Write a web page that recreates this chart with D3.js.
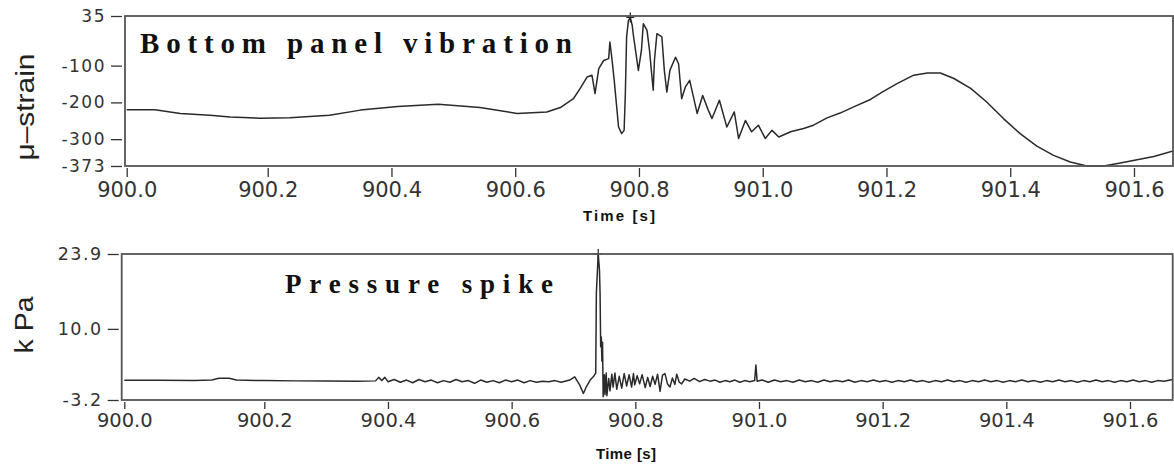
<!DOCTYPE html>
<html>
<head>
<meta charset="utf-8">
<script src="https://cdn.jsdelivr.net/npm/d3@7"></script>
<style>
  body { margin: 0; background: #fff; }
  svg { display: block; background: #fff; }
  .tick line { stroke: #333; stroke-width: 1.3; }
  .tick text { font-family: 'DejaVu Sans', sans-serif; fill: #333; }
  .domain { display: none; }
</style>
</head>
<body>
<svg></svg>
<script>
/* time ticks shared by both panels */
const timeTicks = [900.0, 900.2, 900.4, 900.6, 900.8, 901.0, 901.2, 901.4, 901.6]
const strainTicks = [35, -100, -200, -300, -373]
const pressureTicks = [23.9, 10.0, -3.2]

/* [time s, micro-strain] */
const strainSeries = [
  [900.000, -220], [900.040, -220], [900.076, -230], [900.118, -235], [900.147, -240],
  [900.189, -243], [900.236, -242], [900.300, -235], [900.350, -221], [900.410, -211],
  [900.476, -205], [900.543, -214], [900.603, -230], [900.651, -226], [900.673, -214],
  [900.694, -190], [900.705, -162], [900.716, -131], [900.724, -126], [900.729, -176],
  [900.735, -108], [900.743, -86], [900.751, -81], [900.753, -36], [900.756, -77],
  [900.760, -140], [900.764, -212], [900.767, -267], [900.772, -285], [900.776, -276],
  [900.778, -176], [900.780, -22], [900.783, 23], [900.786, 31], [900.789, 10],
  [900.791, -18], [900.796, -77], [900.799, -113], [900.804, -58], [900.807, 14],
  [900.813, -4], [900.817, -58], [900.821, -131], [900.823, -167], [900.825, -86],
  [900.829, -13], [900.837, -22], [900.841, -113], [900.845, -172], [900.850, -113],
  [900.859, -77], [900.864, -95], [900.869, -190], [900.875, -158], [900.882, -140],
  [900.888, -185], [900.894, -230], [900.903, -181], [900.912, -221], [900.918, -244],
  [900.930, -194], [900.939, -249], [900.942, -267], [900.954, -226], [900.961, -298],
  [900.972, -249], [900.982, -280], [900.993, -262], [901.004, -298], [901.015, -276],
  [901.026, -294], [901.045, -280], [901.066, -271], [901.082, -262], [901.104, -242],
  [901.125, -229], [901.147, -212], [901.174, -192], [901.193, -172], [901.217, -149],
  [901.244, -126], [901.266, -120], [901.287, -120], [901.309, -135], [901.336, -162],
  [901.362, -199], [901.389, -244], [901.416, -285], [901.443, -319], [901.470, -344],
  [901.497, -362], [901.524, -373], [901.551, -373], [901.578, -365], [901.605, -356],
  [901.632, -347], [901.664, -332]
]

/* [time s, kPa] */
const pressureSeries = [
  [900.000, 0.45], [900.050, 0.45], [900.100, 0.40], [900.125, 0.50], [900.135, 0.85],
  [900.150, 0.85], [900.160, 0.50], [900.200, 0.40], [900.250, 0.35], [900.300, 0.35],
  [900.350, 0.30], [900.380, 0.35], [900.385, 1.00], [900.390, 0.40], [900.395, 1.00],
  [900.400, 0.20], [900.410, 0.60], [900.420, 0.10], [900.430, 0.50], [900.440, 0.00],
  [900.450, 0.60], [900.460, 0.20], [900.470, 0.50], [900.480, 0.00], [900.490, 0.40],
  [900.500, 0.10], [900.510, 0.60], [900.520, 0.20], [900.530, 0.40], [900.540, -0.10],
  [900.550, 0.50], [900.560, 0.10], [900.570, 0.40], [900.580, 0.00], [900.590, 0.50],
  [900.600, 0.20], [900.610, 0.50], [900.620, 0.00], [900.630, 0.40], [900.640, 0.10],
  [900.650, 0.30], [900.660, 0.20], [900.670, 0.40], [900.680, 0.10], [900.694, 0.50],
  [900.702, 1.10], [900.710, -0.40], [900.716, -2.00], [900.721, -0.70], [900.727, 0.50],
  [900.732, 1.10], [900.736, 1.80], [900.737, 16.6], [900.740, 23.9], [900.742, 21.0],
  [900.743, 16.6], [900.744, 6.7], [900.745, 8.5], [900.746, 4.0], [900.747, 7.5],
  [900.748, -2.6], [900.750, 1.5], [900.751, -2.2], [900.753, 1.8], [900.754, -2.4],
  [900.757, 0.8], [900.759, -1.5], [900.762, 1.6], [900.764, -0.8], [900.767, 1.8],
  [900.770, -1.2], [900.774, 1.2], [900.778, -1.0], [900.782, 1.7], [900.786, -0.6],
  [900.790, 1.5], [900.794, -0.8], [900.797, 1.7], [900.799, -0.4], [900.803, 1.3],
  [900.807, -0.2], [900.811, 1.5], [900.816, -0.9], [900.820, 1.0], [900.824, -0.7],
  [900.828, 1.2], [900.832, -0.3], [900.836, 1.6], [900.840, -1.6], [900.844, 1.4],
  [900.848, 1.7], [900.852, -0.2], [900.856, -0.8], [900.860, 0.9], [900.864, -0.3],
  [900.867, 1.6], [900.871, 0.1], [900.875, -0.2], [900.880, 0.7], [900.888, 0.3],
  [900.895, 0.8], [900.904, 0.2], [900.912, 0.6], [900.921, 0.3], [900.929, 0.5],
  [900.937, 0.1], [900.945, 0.4], [900.953, 0.2], [900.961, 0.5], [900.969, 0.1],
  [900.977, 0.4], [900.985, 0.2], [900.993, 0.4], [900.995, 3.3], [900.997, 0.3],
  [901.005, 0.5], [901.015, 0.1], [901.025, 0.5], [901.035, 0.2], [901.045, 0.4],
  [901.055, 0.1], [901.065, 0.5], [901.075, 0.2], [901.085, 0.4], [901.095, 0.1],
  [901.105, 0.5], [901.115, 0.2], [901.125, 0.4], [901.135, 0.2], [901.145, 0.5],
  [901.155, 0.1], [901.165, 0.4], [901.175, 0.2], [901.185, 0.5], [901.195, 0.2],
  [901.205, 0.4], [901.215, 0.1], [901.225, 0.4], [901.235, 0.2], [901.245, 0.5],
  [901.255, 0.2], [901.265, 0.4], [901.275, 0.1], [901.285, 0.4], [901.295, 0.2],
  [901.305, 0.5], [901.315, 0.2], [901.325, 0.4], [901.335, 0.1], [901.345, 0.4],
  [901.355, 0.2], [901.365, 0.5], [901.375, 0.2], [901.385, 0.4], [901.395, 0.1],
  [901.405, 0.4], [901.415, 0.2], [901.425, 0.5], [901.435, 0.2], [901.445, 0.4],
  [901.455, 0.1], [901.465, 0.4], [901.475, 0.2], [901.485, 0.5], [901.495, 0.2],
  [901.505, 0.4], [901.515, 0.1], [901.525, 0.4], [901.535, 0.2], [901.545, 0.5],
  [901.555, 0.2], [901.565, 0.4], [901.575, 0.1], [901.585, 0.4], [901.595, 0.2],
  [901.605, 0.5], [901.615, 0.2], [901.625, 0.4], [901.635, 0.1], [901.645, 0.4],
  [901.655, 0.3], [901.669, 0.6]
]

const svgWidth = 1174
const svgHeight = 468

const svg = d3.select('svg')
  .attr('width', svgWidth)
  .attr('height', svgHeight)

/* d3.format gives a typographic minus; the figure uses a plain hyphen */
const hyphen = f => d => f(d).replace('\u2212', '-')

const panels = [
  {
    id: 'strain', data: strainSeries, yTicks: strainTicks, yFormat: hyphen(d3.format('d')),
    left: 125, right: 1173, top: 16, bottom: 166,
    xAnchors: [126.7, 267.7, 1134], xFont: 21, yFont: 17,
    xTickSize: 9, xPad: 5,
    title: 'Bottom panel vibration', titleX: 140, titleY: 53, titleSize: 29, titleLen: 432,
    yLabel: 'μ–strain', yLabelX: 34, yLabelY: 107, yLabelLen: 107,
    xLabelX: 619, xLabelY: 221, xLabelLen: 72
  },
  {
    id: 'pressure', data: pressureSeries, yTicks: pressureTicks, yFormat: hyphen(d3.format('.1f')),
    left: 121.7, right: 1172.7, top: 254, bottom: 400,
    xAnchors: [124.3, 264.3, 1130], xFont: 19.5, yFont: 17.5,
    xTickSize: 7, xPad: 4,
    title: 'Pressure spike', titleX: 285, titleY: 293, titleSize: 27, titleLen: 268,
    yLabel: 'k Pa', yLabelX: 33, yLabelY: 325, yLabelLen: 57,
    xLabelX: 626, xLabelY: 459, xLabelLen: 60
  }
]

panels.forEach(p => {
  let xScale = d3.scaleLinear()
    .domain([900.0, 900.2, 901.6])
    .range(p.xAnchors)

  let yScale = d3.scaleLinear()
    .domain([d3.min(p.yTicks), d3.max(p.yTicks)])
    .range([p.bottom, p.top])

  /* clip */
  svg.append('clipPath')
      .attr('id', `clip-${p.id}`)
    .append('rect')
      .attr('x', p.left)
      .attr('y', p.top - 2)
      .attr('width', p.right - p.left)
      .attr('height', p.bottom - p.top + 4)

  /* y axis */
  svg.append('g')
      .attr('transform', `translate(${p.left - 3}, 0)`)
      .call(d3.axisLeft(yScale).tickValues(p.yTicks).tickFormat(p.yFormat).tickSize(11).tickPadding(5))
    .selectAll('text')
      .style('font-size', `${p.yFont}px`)
      .style('letter-spacing', '1.5px')

  /* x axis */
  svg.append('g')
      .attr('transform', `translate(0, ${p.bottom + 2})`)
      .call(d3.axisBottom(xScale).tickValues(timeTicks).tickFormat(d3.format('.1f')).tickSize(p.xTickSize).tickPadding(p.xPad))
    .selectAll('text')
      .style('font-size', `${p.xFont}px`)

  /* trace */
  let line = d3.line()
    .x(d => xScale(d[0]))
    .y(d => yScale(d[1]))

  svg.append('path')
    .datum(p.data)
    .attr('clip-path', `url(#clip-${p.id})`)
    .attr('fill', 'none')
    .attr('stroke', '#2a2a2a')
    .attr('stroke-width', 1.5)
    .attr('stroke-linejoin', 'round')
    .attr('d', line)

  /* cursor cross at the peak */
  let peak = p.data[d3.maxIndex(p.data, d => d[1])]
  let px = xScale(peak[0])
  let py = Math.max(yScale(peak[1]), p.top)
  svg.append('path')
    .attr('d', `M${px - 4},${py}H${px + 4}M${px},${py - 5}V${py + 5}`)
    .attr('stroke', '#222')
    .attr('stroke-width', 1.2)

  /* frame */
  svg.append('rect')
    .attr('x', p.left)
    .attr('y', p.top)
    .attr('width', p.right - p.left)
    .attr('height', p.bottom - p.top)
    .attr('fill', 'none')
    .attr('stroke', '#555')
    .attr('stroke-width', 1.8)

  /* panel title */
  svg.append('text')
    .attr('x', p.titleX)
    .attr('y', p.titleY)
    .attr('textLength', p.titleLen)
    .attr('lengthAdjust', 'spacing')
    .style('font-family', "'Liberation Serif', serif")
    .style('font-weight', 'bold')
    .style('font-size', `${p.titleSize}px`)
    .style('fill', '#111')
    .text(p.title)

  /* y label */
  svg.append('text')
    .attr('transform', `translate(${p.yLabelX}, ${p.yLabelY}) rotate(-90)`)
    .attr('textLength', p.yLabelLen)
    .attr('lengthAdjust', 'spacingAndGlyphs')
    .style('text-anchor', 'middle')
    .style('font-family', "'Liberation Sans', Arial, sans-serif")
    .style('font-size', '26px')
    .style('fill', '#222')
    .text(p.yLabel)

  /* x label */
  svg.append('text')
    .attr('x', p.xLabelX)
    .attr('y', p.xLabelY)
    .attr('textLength', p.xLabelLen)
    .attr('lengthAdjust', 'spacing')
    .style('text-anchor', 'middle')
    .style('font-family', "'Liberation Sans', Arial, sans-serif")
    .style('font-weight', 'bold')
    .style('font-size', '15px')
    .style('fill', '#111')
    .text('Time [s]')
})
</script>
</body>
</html>
